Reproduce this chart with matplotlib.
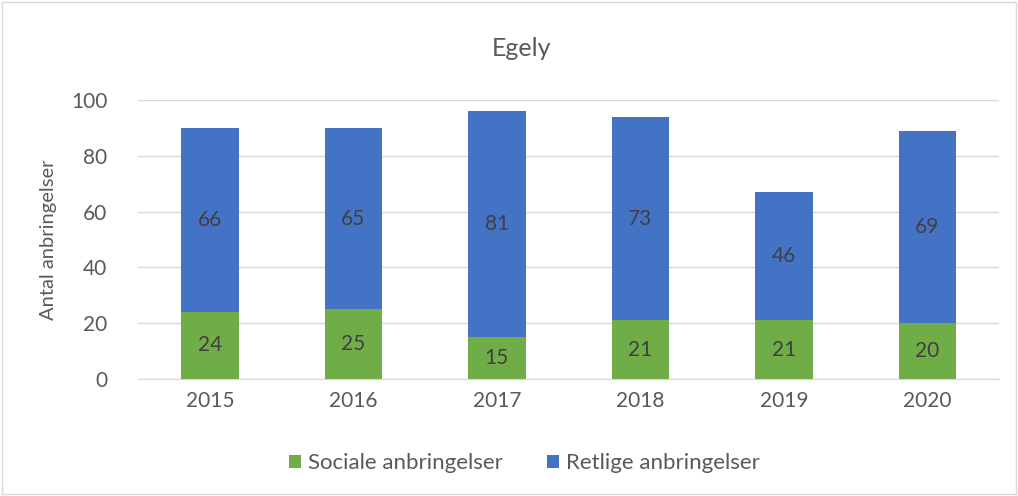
import numpy as np
from matplotlib import pyplot as plt
from matplotlib.patches import Rectangle

years = ['2015', '2016', '2017', '2018', '2019', '2020']
sociale = [24, 25, 15, 21, 21, 20]
retlige = [66, 65, 81, 73, 46, 69]

green = '#70AD47'
blue = '#4472C4'
txt = '#595959'

plt.rcParams['font.family'] = ['Lato', 'DejaVu Sans']

fig = plt.figure(figsize=(10.18, 4.96), dpi=100)
ax = fig.add_axes([0.1356, 0.236, 0.846, 0.562])

x = np.arange(len(years))
b1 = ax.bar(x, sociale, width=0.4, color=green, label='Sociale anbringelser', zorder=3)
b2 = ax.bar(x, retlige, width=0.4, bottom=sociale, color=blue, label='Retlige anbringelser', zorder=3)
ax.bar_label(b1, label_type='center', fontsize=15, color='#404040')
ax.bar_label(b2, label_type='center', fontsize=15, color='#404040')

ax.set_xlim(-0.5, len(years) - 0.5)
ax.set_ylim(0, 100)
ax.set_yticks(range(0, 101, 20))
ax.set_xticks(x)
ax.set_xticklabels(years)
ax.tick_params(axis='both', length=0, labelsize=15, labelcolor=txt)
ax.tick_params(axis='y', pad=22)
ax.tick_params(axis='x', pad=9)
ax.grid(axis='y', color='#D9D9D9', linewidth=1, zorder=0)
for s in ['top', 'right', 'left']:
    ax.spines[s].set_visible(False)
ax.spines['bottom'].set_color('#D9D9D9')
ax.set_ylabel('Antal anbringelser', fontsize=14.5, color=txt, labelpad=10)

fig.text(0.512, 0.903, 'Egely', ha='center', va='center', fontsize=18, color=txt)
fig.legend(loc='center', bbox_to_anchor=(0.515, 0.066), ncol=2, frameon=False,
           fontsize=16, labelcolor=txt, handlelength=0.55, handleheight=0.55,
           columnspacing=2.0, handletextpad=0.3)
fig.patches.append(Rectangle((0.002, 0.004), 0.996, 0.992, transform=fig.transFigure,
                             fill=False, edgecolor='#D9D9D9', linewidth=1))

fig.savefig('out.png', dpi=100)
